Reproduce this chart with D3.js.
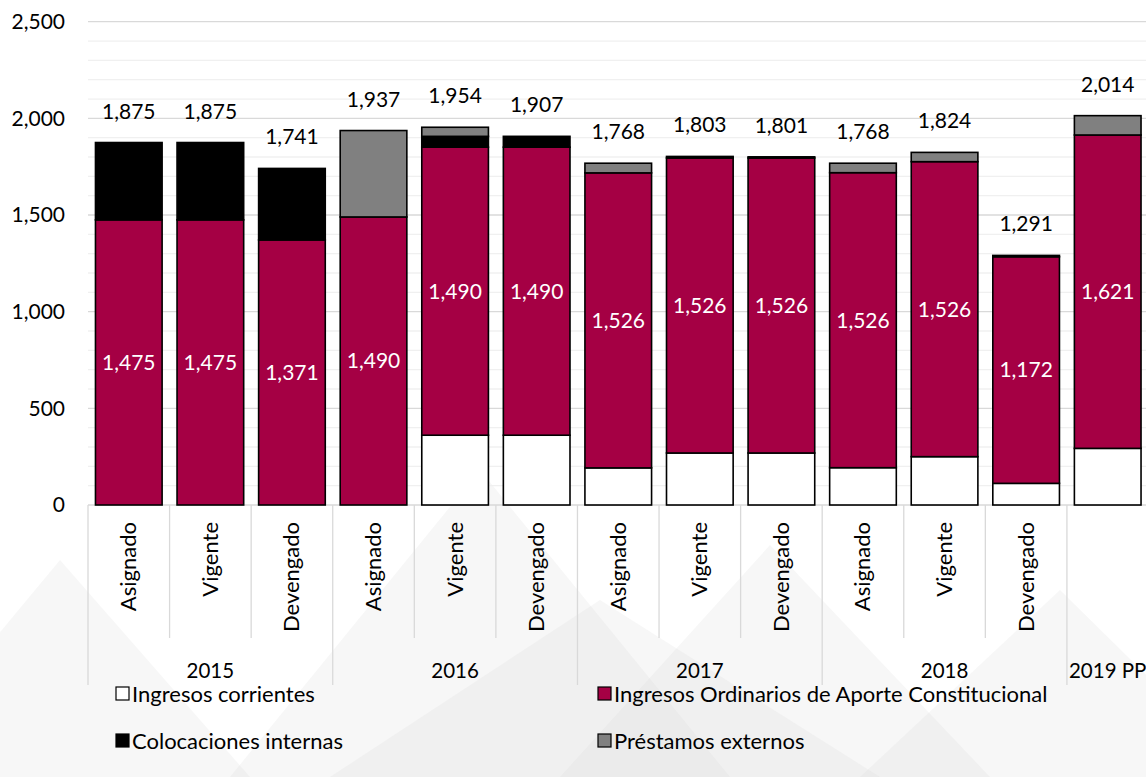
<!DOCTYPE html>
<html>
<head>
<meta charset="utf-8">
<script src="https://cdn.jsdelivr.net/npm/d3@7"></script>
<style>
  html, body { margin: 0; padding: 0; background: #ffffff; }
  svg { display: block; font-family: Lato, "Open Sans", sans-serif; }
</style>
</head>
<body>
<svg id="chart" width="1146" height="777"></svg>
<script>
// ---- Data ----
const years = ["2015", "2016", "2017", "2018", "2019 PP"];
const categories = ["Asignado", "Vigente", "Devengado", "Asignado", "Vigente", "Devengado",
                    "Asignado", "Vigente", "Devengado", "Asignado", "Vigente", "Devengado", ""];
const categoryYear = ["2015", "2015", "2015", "2016", "2016", "2016",
                      "2017", "2017", "2017", "2018", "2018", "2018", "2019 PP"];
const ingresosCorrientes = [0, 0, 0, 0, 361, 361, 192, 269, 269, 193, 250, 112, 293];
const aporteConstitucional = [1475, 1475, 1371, 1490, 1490, 1490, 1526, 1526, 1526, 1526, 1526, 1172, 1621];
const colocacionesInternas = [400, 400, 370, 0, 56, 56, 0, 8, 6, 0, 0, 7, 0];
const prestamosExternos = [0, 0, 0, 447, 47, 0, 50, 0, 0, 49, 48, 0, 100];
const totals = [1875, 1875, 1741, 1937, 1954, 1907, 1768, 1803, 1801, 1768, 1824, 1291, 2014];
const yTicks = [0, 500, 1000, 1500, 2000, 2500];

const seriesNames = ["Ingresos corrientes", "Ingresos Ordinarios de Aporte Constitucional",
                     "Colocaciones internas", "Préstamos externos"];
const seriesColors = ["#ffffff", "#a50044", "#000000", "#808080"];

// ---- Layout ----
const svg = d3.select("#chart");
const W = 1146, H = 777;
const plotLeft = 88, plotRight = 1148.5, plotTop = 21.7, plotBottom = 505;

// background watermark triangles
const bg = svg.append("g");
const tri = [
  [[-120, 777], [60, 560], [250, 777]],
  [[230, 777], [480, 470], [730, 777]],
  [[560, 777], [770, 545], [990, 777]],
  [[860, 777], [1060, 590], [1250, 777]],
  [[330, 777], [600, 600], [880, 777]]
];
bg.selectAll("polygon").data(tri).join("polygon")
  .attr("points", d => d.map(p => p.join(",")).join(" "))
  .attr("fill", "#d8d8d8")
  .attr("opacity", 0.2);

const x = d3.scaleBand()
  .domain(d3.range(categories.length))
  .range([plotLeft, plotRight])
  .paddingInner(0.183)
  .paddingOuter(0.0915);

const y = d3.scaleLinear().domain([0, 2500]).range([plotBottom, plotTop]);

// gridlines
const grid = svg.append("g");
grid.selectAll("line.minor").data(d3.range(100, 2501, 100).filter(v => v % 500 !== 0)).join("line")
  .attr("class", "minor")
  .attr("x1", plotLeft).attr("x2", W)
  .attr("y1", d => y(d)).attr("y2", d => y(d))
  .attr("stroke", "#f0f0f0").attr("stroke-width", 1.3);
grid.selectAll("line.major").data(yTicks).join("line")
  .attr("class", "major")
  .attr("x1", plotLeft).attr("x2", W)
  .attr("y1", d => y(d)).attr("y2", d => y(d))
  .attr("stroke", "#d9d9d9").attr("stroke-width", 1.3);

// y axis labels
const fmt = d3.format(",");
svg.append("g").selectAll("text").data(yTicks).join("text")
  .attr("x", 65).attr("y", d => y(d))
  .attr("dy", "0.35em")
  .attr("text-anchor", "end")
  .attr("font-size", 21)
  .attr("fill", "#000")
  .text(d => fmt(d));

// stacked data
const rows = categories.map((c, i) => ({
  i,
  s0: ingresosCorrientes[i],
  s1: aporteConstitucional[i],
  s2: colocacionesInternas[i],
  s3: prestamosExternos[i]
}));
const stack = d3.stack().keys(["s0", "s1", "s2", "s3"]);
const stacked = stack(rows);

const barsG = svg.append("g");
stacked.forEach((layer, k) => {
  barsG.selectAll(null).data(layer.filter(d => d[1] - d[0] > 0)).join("rect")
    .attr("x", d => x(d.data.i))
    .attr("width", x.bandwidth())
    .attr("y", d => y(d[1]))
    .attr("height", d => y(d[0]) - y(d[1]))
    .attr("fill", seriesColors[k])
    .attr("stroke", "#000")
    .attr("stroke-width", 1.6);
});

// inner labels for aporte
svg.append("g").selectAll("text").data(stacked[1]).join("text")
  .attr("x", d => x(d.data.i) + x.bandwidth() / 2)
  .attr("y", d => (y(d[0]) + y(d[1])) / 2)
  .attr("dy", "0.35em")
  .attr("text-anchor", "middle")
  .attr("font-size", 21)
  .attr("fill", "#ffffff")
  .text(d => fmt(d.data.s1));

// total labels
svg.append("g").selectAll("text").data(totals).join("text")
  .attr("x", (d, i) => x(i) + x.bandwidth() / 2)
  .attr("y", d => y(d) - 24)
  .attr("text-anchor", "middle")
  .attr("font-size", 21)
  .attr("fill", "#000")
  .text(d => fmt(d));

// category axis
const step = x.step();
const axisG = svg.append("g");
const boundaries = d3.range(categories.length + 1);
const groupStarts = new Set([0, 3, 6, 9, 12, 13]);
const x0 = x(0) - x.step() * x.paddingOuter();
axisG.selectAll("line").data(boundaries).join("line")
  .attr("x1", i => x0 + i * step)
  .attr("x2", i => x0 + i * step)
  .attr("y1", plotBottom)
  .attr("y2", i => groupStarts.has(i) ? 685 : 638)
  .attr("stroke", "#d9d9d9").attr("stroke-width", 1.3);

axisG.selectAll("text.cat").data(categories).join("text")
  .attr("class", "cat")
  .attr("transform", (d, i) => `translate(${x(i) + x.bandwidth() / 2 + 7.5},522) rotate(-90)`)
  .attr("text-anchor", "end")
  .attr("font-size", 22)
  .attr("fill", "#000")
  .text(d => d);

const yearPos = years.map(yr => {
  const idx = categoryYear.map((c, i) => c === yr ? i : -1).filter(i => i >= 0);
  return { yr, cx: (x(idx[0]) + x(idx[idx.length - 1]) + x.bandwidth()) / 2 };
});
axisG.selectAll("text.year").data(yearPos).join("text")
  .attr("class", "year")
  .attr("x", d => d.cx)
  .attr("y", 678)
  .attr("text-anchor", "middle")
  .attr("font-size", 20.5)
  .attr("fill", "#000")
  .text(d => d.yr);

// legend
const legendPos = [[116, 694], [598, 694], [116, 741], [598, 741]];
const lg = svg.append("g");
seriesNames.forEach((name, k) => {
  const [lx, ly] = legendPos[k];
  lg.append("rect")
    .attr("x", lx).attr("y", ly - 7).attr("width", 13).attr("height", 13)
    .attr("fill", seriesColors[k]).attr("stroke", "#000").attr("stroke-width", 1.2);
  lg.append("text")
    .attr("x", lx + 16).attr("y", ly)
    .attr("dy", "0.35em")
    .attr("font-size", 22)
    .attr("fill", "#000")
    .text(name);
});
</script>
</body>
</html>
